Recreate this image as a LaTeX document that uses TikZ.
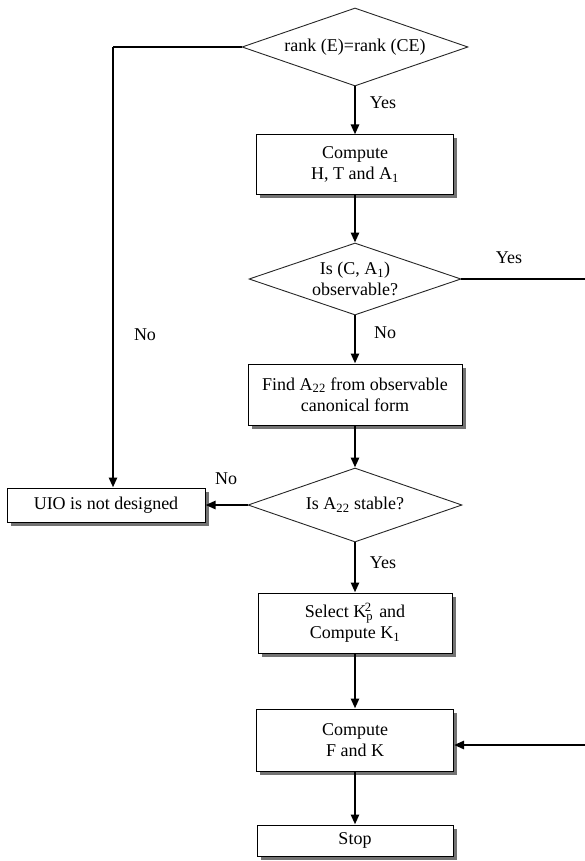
\documentclass[tikz,border=0pt]{standalone}
\usepackage{fontspec}
\setmainfont{Liberation Serif}
\usetikzlibrary{shapes.geometric,arrows.meta,shadows}
\begin{document}
\begin{tikzpicture}[x=1pt,y=-1pt,
  every node/.style={font=\fontsize{18}{21}\selectfont},
  procbox/.style={draw=black,line width=1pt,fill=white,rectangle,align=center,inner sep=0pt,
     drop shadow={shadow xshift=3.5pt,shadow yshift=-3.5pt,fill=black!55,opacity=1}},
  decision/.style={draw=black!85,line width=0.9pt,diamond,align=center,inner sep=0pt},
  arr/.style={line width=2.6pt,-{Triangle[length=10pt,width=8pt]}},
  plainline/.style={line width=2.2pt},
  thinline/.style={line width=1.4pt},
  lbl/.style={inner sep=0pt}
]
\useasboundingbox (0,0) rectangle (585,861);

\node[decision,minimum width=226pt,minimum height=78pt,aspect=2.9] (d1) at (355,47) {rank (E)=rank (CE)};
\node[procbox,minimum width=197pt,minimum height=59pt] (b1) at (355,164.5) {Compute\\H, T and A\textsubscript{1}};
\node[decision,minimum width=212pt,minimum height=72pt,aspect=2.95] (d2) at (355,279) {Is (C, A\textsubscript{1})\\observable?};
\node[procbox,minimum width=214pt,minimum height=61pt] (b2) at (355,394.5) {Find A\textsubscript{22} from observable\\canonical form};
\node[decision,minimum width=214pt,minimum height=74pt,aspect=2.9] (d3) at (355,505) {Is A\textsubscript{22} stable?};
\node[procbox,minimum width=198pt,minimum height=34pt] (uio) at (106,505) {UIO is not designed};
\node[procbox,minimum width=194pt,minimum height=60pt] (b3) at (355,623) {Select K\textsubscript{p}\kern-0.45em\textsuperscript{2}\, and\\Compute K\textsubscript{1}};
\node[procbox,minimum width=197pt,minimum height=62pt] (b4) at (355,740) {Compute\\F and K};
\node[procbox,minimum width=196pt,minimum height=31pt] (stop) at (355,840.5) {Stop};

\coordinate (lt) at (113,47);
\coordinate (ob-r) at (585,279);
\coordinate (fk-r) at (585,745);

\draw[arr] (d1.south) -- (b1.north);
\draw[arr] (b1.south) -- (d2.north);
\draw[arr] (d2.south) -- (b2.north);
\draw[arr] (b2.south) -- (d3.north);
\draw[arr] (d3.south) -- (b3.north);
\draw[arr] (b3.south) -- (b4.north);
\draw[arr] (b4.south) -- (stop.north);
\draw[arr] (d3.west) -- (uio.east);
\draw[plainline] (d1.west) -- (lt);
\draw[arr] (lt) -- (lt |- uio.north);
\draw[thinline] (d2.east) -- (ob-r);
\draw[arr] (fk-r) -- (fk-r -| b4.east);

\node[lbl] (l1) at (383,103) {Yes};
\node[lbl] (l2) at (509,258) {Yes};
\node[lbl] (l3) at (385,333) {No};
\node[lbl] (l4) at (145,335) {No};
\node[lbl] (l5) at (226,479) {No};
\node[lbl] (l6) at (383,563) {Yes};
\end{tikzpicture}
\end{document}
